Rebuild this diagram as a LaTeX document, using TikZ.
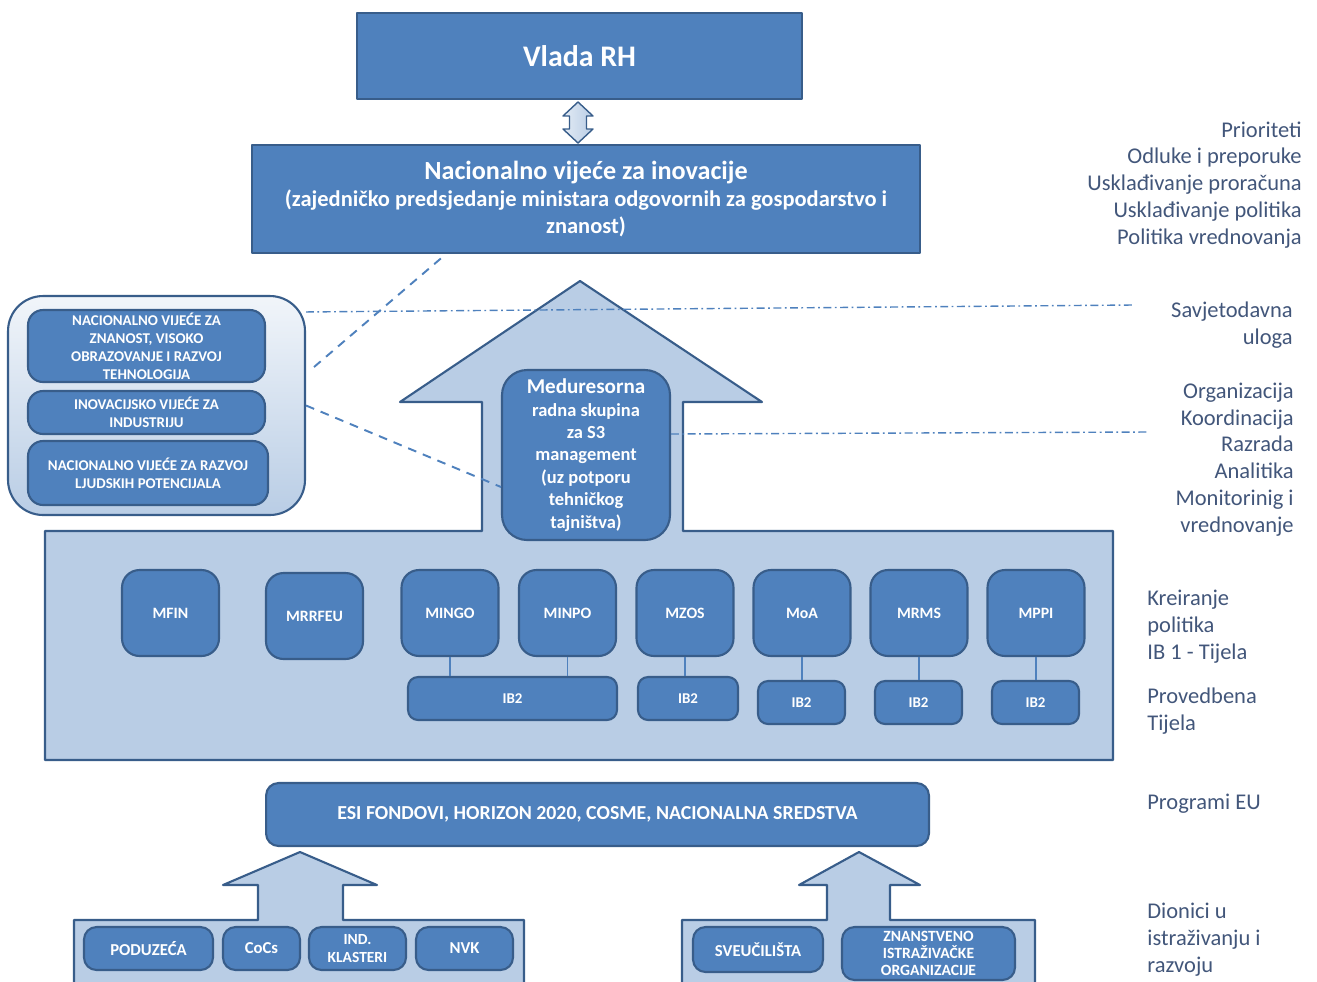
\documentclass[tikz,border=0pt]{standalone}
\usepackage{fontspec}
\setmainfont{Carlito}
\definecolor{boxblue}{RGB}{79,129,189}
\definecolor{edgeblue}{RGB}{56,93,138}
\definecolor{paleblue}{RGB}{185,205,229}
\definecolor{labelblue}{RGB}{66,86,122}
\begin{document}
\begin{tikzpicture}[x=0.02cm,y=-0.02cm,line join=round,
	blok/.style={draw=edgeblue,fill=boxblue,line width=1.2pt,text=white,font=\bfseries,align=center,inner sep=0pt},
	rblok/.style={blok,rounded corners=0.3cm},
	ministry/.style={rblok,rounded corners=0.35cm,minimum width=1.94cm,minimum height=1.72cm,font=\bfseries\fontsize{9}{10}\selectfont},
	ibbox/.style={rblok,rounded corners=0.2cm,minimum height=0.86cm,font=\bfseries\fontsize{8.5}{10}\selectfont},
	council/.style={rblok,minimum width=4.74cm,font=\bfseries\fontsize{8.5}{10.2}\selectfont},
	actor/.style={rblok,rounded corners=0.25cm,minimum height=0.86cm,font=\bfseries\fontsize{9.5}{10}\selectfont},
	arrowbody/.style={draw=edgeblue,fill=paleblue,line width=1.2pt},
	dashline/.style={boxblue,line width=1.1pt,dash pattern=on 5pt off 4pt},
	dotline/.style={boxblue,line width=0.8pt,dash pattern=on 4.5pt off 2pt on 1pt off 2pt},
	tie/.style={boxblue,line width=0.8pt},
	lbl/.style={text=labelblue,inner sep=0pt,font=\fontsize{12.8}{15.3}\selectfont}]
		\clip (0,0) rectangle (1317,981);
		\node[blok,minimum width=8.9cm,minimum height=1.72cm,font=\bfseries\fontsize{17}{20}\selectfont] (vlada) at (579.5,56) {Vlada RH};
		\node[blok,minimum width=13.36cm,minimum height=2.16cm,font=\bfseries\fontsize{12.8}{15.3}\selectfont] (niv) at (586,199) {{\fontsize{14.9}{17}\selectfont Nacionalno vijeće za inovacije}\\(zajedničko predsjedanje ministara odgovornih za gospodarstvo i\\znanost)};
		\draw[draw=edgeblue,line width=0.8pt,left color=white!60!paleblue,right color=paleblue] (578,102) -- (593,116) -- (586.5,116) -- (586.5,129) -- (593,129) -- (578,143) -- (563,129) -- (569.5,129) -- (569.5,116) -- (563,116) -- cycle;
		\draw[arrowbody] (45,531) -- (482,531) -- (482,402) -- (400,402) -- (580,281) -- (762,402) -- (683,402) -- (683,531) -- (1113,531) -- (1113,760) -- (45,760) -- cycle;
		\node[draw=edgeblue,line width=1.2pt,rounded corners=0.7cm,top color=white!80!paleblue,bottom color=paleblue,minimum width=5.94cm,minimum height=4.38cm] (savjet) at (156.5,405.5) {};
		\node[council,minimum height=1.44cm] (nvz) at (146.5,346) {NACIONALNO VIJEĆE ZA\\ZNANOST, VISOKO\\OBRAZOVANJE I RAZVOJ\\TEHNOLOGIJA};
		\node[council,minimum height=0.86cm] (ivi) at (146.5,412.5) {INOVACIJSKO VIJEĆE ZA\\INDUSTRIJU};
		\node[council,minimum width=4.8cm,minimum height=1.28cm] (nvr) at (148,473) {NACIONALNO VIJEĆE ZA RAZVOJ\\LJUDSKIH POTENCIJALA};
		\coordinate (savend) at (1133,305);
		\coordinate (orgend) at (1148,432);
		\draw[dotline] ([yshift=-0.34cm]savjet.north east) -- (savend);
		\draw[dashline] ([xshift=0.16cm,yshift=0.77cm]savjet.east) -- ([xshift=3.9cm]niv.south west);
		\node[rblok,rounded corners=0.5cm,minimum width=3.36cm,minimum height=3.4cm,font=\bfseries\fontsize{10.5}{12.75}\selectfont] (mrs) at (586,455) {{\fontsize{12}{12.75}\selectfont Meduresorna}\\radna skupina\\za S3\\management\\(uz potporu\\tehničkog\\tajništva)};
		\draw[dashline] (savjet.east) -- ([yshift=-0.64cm]mrs.west);
		\draw[dotline] ([yshift=0.42cm]mrs.east) -- (orgend);
		\foreach \n/\x/\y/\t in {mfin/170.5/613/MFIN,mrrfeu/314.5/616/MRRFEU,mingo/450/613/MINGO,minpo/567.5/613/MINPO,mzos/685/613/MZOS,moa/802/613/MoA,mrms/919/613/MRMS,mppi/1036/613/MPPI}
		\node[ministry] (\n) at (\x,\y) {\t};
		\foreach \n/\x/\y/\w in {iba/512.5/698.5/4.18,ibb/688/698.5/2.0,ibc/801.5/702.5/1.74,ibd/918.5/702.5/1.74,ibe/1035.5/702.5/1.74}
		\node[ibbox,minimum width=\w cm] (\n) at (\x,\y) {IB2};
		\foreach \m/\b in {mingo/iba,minpo/iba,mzos/ibb,moa/ibc,mrms/ibd,mppi/ibe}
		\draw[tie] (\m.south) -- (\m.south |- \b.north);
		\node[rblok,rounded corners=0.25cm,minimum width=13.26cm,minimum height=1.26cm,font=\bfseries\fontsize{11.3}{12}\selectfont] (esi) at (597.5,814.5) {ESI FONDOVI, HORIZON 2020, COSME, NACIONALNA SREDSTVA};
		\draw[arrowbody] (74,920) -- (258,920) -- (258,885) -- (223,885) -- (300,852) -- (377,885) -- (343,885) -- (343,920) -- (524,920) -- (524,995) -- (74,995) -- cycle;
		\draw[arrowbody] (682,920) -- (827,920) -- (827,885) -- (799,885) -- (859,852) -- (920,885) -- (890,885) -- (890,920) -- (1035,920) -- (1035,995) -- (682,995) -- cycle;
		\node[actor,minimum width=2.58cm] (pod) at (148.5,948.5) {PODUZEĆA};
		\node[actor,minimum width=1.54cm] (cocs) at (261.5,948.5) {CoCs};
		\node[actor,minimum width=1.94cm,font=\bfseries\fontsize{8.8}{9.8}\selectfont] (ind) at (357.5,948.5) {IND.\\KLASTERI};
		\node[actor,minimum width=1.94cm] (nvk) at (464.5,948.5) {NVK};
		\node[actor,minimum width=2.6cm,minimum height=0.9cm] (sveu) at (758,949.5) {SVEUČILIŠTA};
		\node[actor,minimum width=3.46cm,minimum height=1.06cm,font=\bfseries\fontsize{8.9}{9.9}\selectfont] (zio) at (928.5,953.5) {ZNANSTVENO\\ISTRAŽIVAČKE\\ORGANIZACIJE};
		\node[lbl,anchor=east,align=right] (prio) at (1302,185) {Prioriteti\\Odluke i preporuke\\Usklađivanje proračuna\\Usklađivanje politika\\Politika vrednovanja};
		\node[lbl,anchor=east,align=right] (savj) at (1293,325.5) {Savjetodavna\\uloga};
		\node[lbl,anchor=east,align=right] (org) at (1294,459.5) {Organizacija\\Koordinacija\\Razrada\\Analitika\\Monitorinig i\\vrednovanje};
		\node[lbl,anchor=west,align=left] (kre) at (1147,627) {Kreiranje\\politika\\IB 1 - Tijela};
		\node[lbl,anchor=west,align=left] (prov) at (1147,711.5) {Provedbena\\Tijela};
		\node[lbl,anchor=west,align=left] (prog) at (1147,804) {Programi EU};
		\node[lbl,anchor=west,align=left] (dion) at (1147,939.5) {Dionici u\\istraživanju i\\razvoju};
\end{tikzpicture}
\end{document}
